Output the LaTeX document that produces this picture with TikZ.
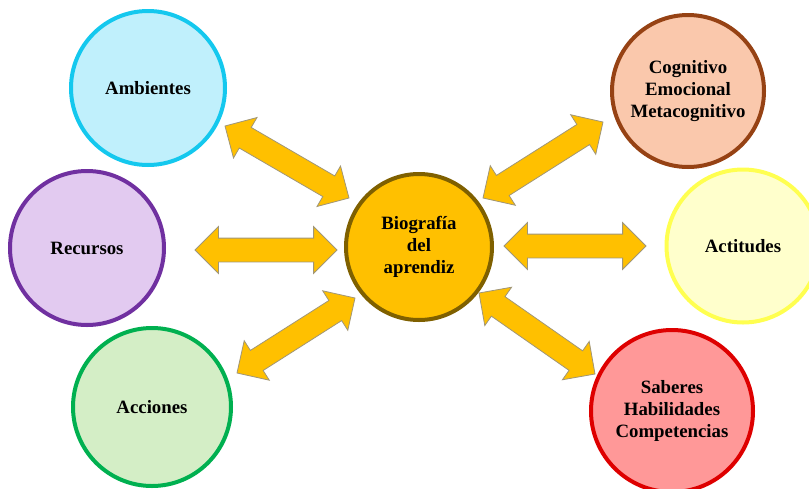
\documentclass[tikz,border=0pt]{standalone}
\usepackage{fontspec}
\setmainfont{Liberation Serif}
\usetikzlibrary{shapes.arrows,calc}
\definecolor{cyanB}{RGB}{20,200,238}
\definecolor{cyanF}{RGB}{192,240,252}
\definecolor{purB}{RGB}{112,48,160}
\definecolor{purF}{RGB}{226,202,240}
\definecolor{grnB}{RGB}{0,176,80}
\definecolor{grnF}{RGB}{212,238,198}
\definecolor{brnB}{RGB}{150,66,20}
\definecolor{brnF}{RGB}{250,200,172}
\definecolor{yelB}{RGB}{255,255,80}
\definecolor{yelF}{RGB}{255,255,204}
\definecolor{redB}{RGB}{222,0,0}
\definecolor{redF}{RGB}{255,152,152}
\definecolor{goldF}{RGB}{255,192,0}
\definecolor{goldB}{RGB}{127,96,0}
\definecolor{arrB}{RGB}{160,150,120}
\tikzset{
  bubble/.style={circle, line width=4pt, minimum size=#1, inner sep=0pt,
    align=center, font=\fontsize{18.8}{21.7}\selectfont\bfseries, text=black},
  darrow/.style={double arrow, fill=goldF, draw=arrB, line width=0.8pt,
    inner xsep=0pt, inner ysep=11.5pt, double arrow head extend=11.5pt,
    double arrow tip angle=90, anchor=center}
}
\newcommand{\dblarr}[2]{%
  \path let \p1=($(#2)-(#1)$), \n1={veclen(\x1,\y1)}, \n2={atan2(\y1,\x1)} in
    ($(#1)!0.5!(#2)$) node[darrow, minimum height=\n1, rotate=\n2] {};}
\begin{document}
\begin{tikzpicture}[x=1pt,y=-1pt]
\useasboundingbox (0,0) rectangle (809,488);
\begin{scope}
\clip (0,0) rectangle (809,488);
\node[bubble=154pt, draw=cyanB, fill=cyanF] (amb) at (148,88) {Ambientes};
\node[bubble=154pt, draw=purB, fill=purF] (rec) at (87,248) {Recursos};
\node[bubble=158pt, draw=grnB, fill=grnF] (acc) at (152,407) {Acciones};
\node[bubble=152pt, draw=brnB, fill=brnF] (cog) at (688,91) {Cognitivo\\Emocional\\Metacognitivo};
\node[bubble=153pt, draw=yelB, fill=yelF] (act) at (743,246) {Actitudes};
\node[bubble=162pt, draw=redB, fill=redF] (sab) at (672,411) {Saberes\\Habilidades\\Competencias};
\node[bubble=146pt, draw=goldB, fill=goldF] (bio) at (419,247) {Biografía\\del\\aprendiz};
\end{scope}
\coordinate (a1s) at (225,126); \coordinate (a1e) at (349,198);
\coordinate (a2s) at (195,250); \coordinate (a2e) at (337,250);
\coordinate (a3s) at (237,373); \coordinate (a3e) at (355,298);
\coordinate (a4s) at (483,198); \coordinate (a4e) at (603,122);
\coordinate (a5s) at (504,246); \coordinate (a5e) at (646,246);
\coordinate (a6s) at (479,293); \coordinate (a6e) at (595,374);
\dblarr{a1s}{a1e}
\dblarr{a2s}{a2e}
\dblarr{a3s}{a3e}
\dblarr{a4s}{a4e}
\dblarr{a5s}{a5e}
\dblarr{a6s}{a6e}
\end{tikzpicture}
\end{document}
